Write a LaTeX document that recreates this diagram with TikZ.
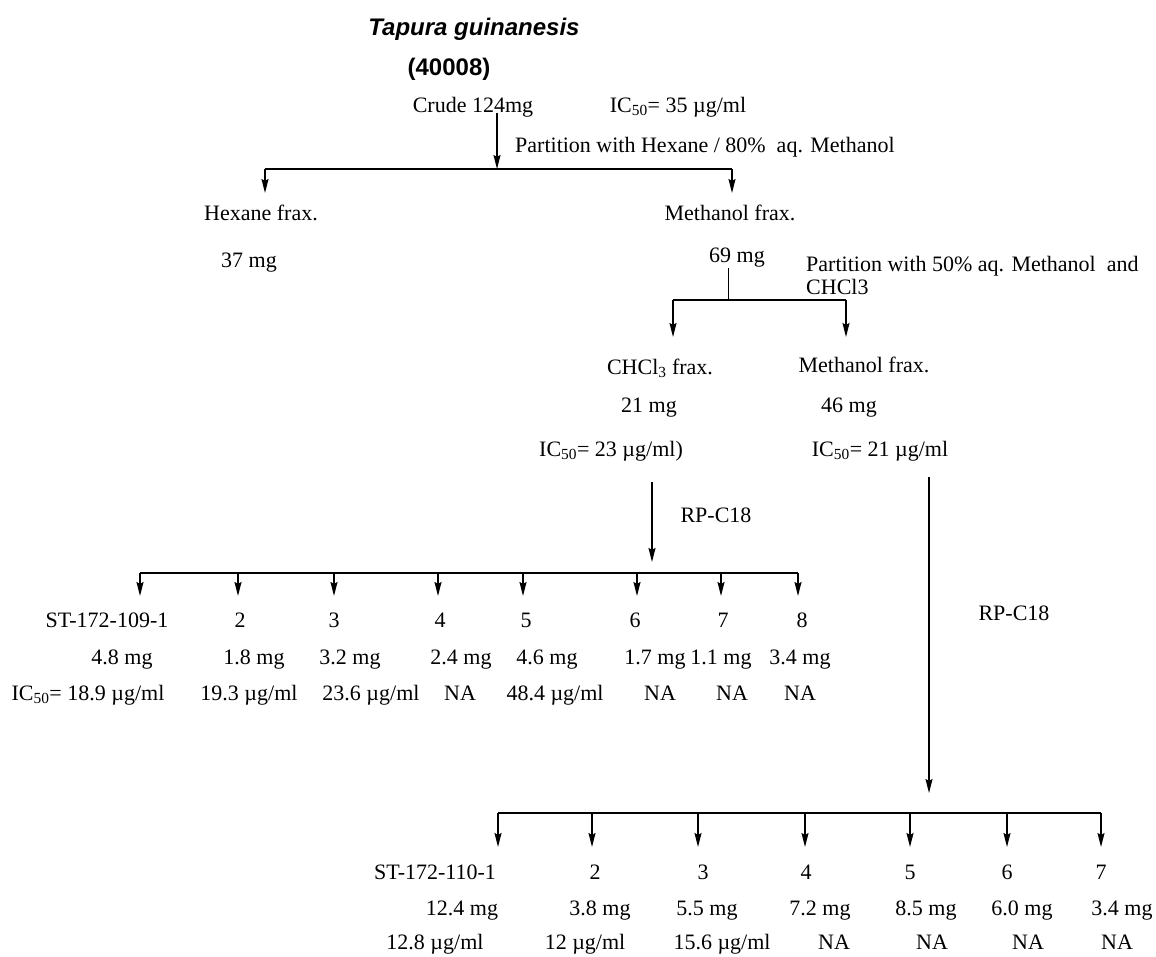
\documentclass[tikz,border=0pt]{standalone}
\usepackage{fontspec}
\setmainfont{Liberation Serif}
\newfontfamily\titlefont{Liberation Sans}
\usetikzlibrary{positioning, calc, arrows.meta}

\begin{document}
\begin{tikzpicture}[
            x=1pt, y=-1pt,
            lbl/.style={inner sep=0pt, text height=15pt, text depth=0pt, font=\fontsize{22}{24}\selectfont},
            ttl/.style={inner sep=0pt, text height=17pt, text depth=0pt, font=\titlefont\bfseries\fontsize{24}{28}\selectfont},
            note/.style={lbl, anchor=west},
            split/.style={line width=1.6pt},
            tick/.style={line width=1pt},
            arr/.style={->, >={Stealth[length=14pt, width=7pt, inset=2pt]}, line width=1.6pt}
        ]
            \useasboundingbox (0,0) rectangle (1156,956);

            % --- 1. crude extract ---
            \node[ttl] (plant) at (474,27) {\itshape Tapura guinanesis};
            \node[ttl] (code) at (449,67) {(40008)};
            \node[lbl] (crude) at (473,105) {Crude 124mg};
            \node[lbl] (ic0) at (678,105) {IC\textsubscript{50}= 35 µg/ml};
            \node[note] (part1) at (515,145) {Partition with Hexane / 80\%\ \ aq. Methanol};

            \coordinate (s0) at (497,169);
            \coordinate (h0) at (265,169);
            \coordinate (h1) at (265,193);
            \coordinate (m0) at (732,169);
            \coordinate (m1) at (732,193);
            \draw[arr] (crude.south -| s0) -- (s0);
            \draw[split] (h0) -- (m0);
            \draw[arr] (h0) -- (h1);
            \draw[arr] (m0) -- (m1);

            % --- 2. hexane / methanol partition ---
            \node[lbl] (hex) at (261,213) {Hexane frax.};
            \node[lbl] (hexmg) at (249,260) {37 mg};
            \node[lbl] (meth) at (730,213) {Methanol frax.};
            \node[lbl] (methmg) at (737,255) {69 mg};
            \node[note] (part2) at (806,264) {Partition with 50\% aq. Methanol\ \ and};
            \node[note, below=8pt of part2.south west, anchor=north west] (part2b) {CHCl3};

            \coordinate (k0) at (728,268);
            \coordinate (k1) at (728,300);
            \coordinate (c0) at (673,300);
            \coordinate (c1) at (673,337);
            \coordinate (w0) at (846,300);
            \coordinate (w1) at (846,337);
            \draw[tick] (k0) -- (k1);
            \draw[split] (c0) -- (w0);
            \draw[arr] (c0) -- (c1);
            \draw[arr] (w0) -- (w1);

            \node[lbl] (chcl) at (660,367) {CHCl\textsubscript{3} frax.};
            \node[lbl] (chclmg) at (649,405) {21 mg};
            \node[lbl] (chclic) at (611,449) {IC\textsubscript{50}= 23 µg/ml)};
            \node[lbl] (meth2) at (864,365) {Methanol frax.};
            \node[lbl] (meth2mg) at (849,405) {46 mg};
            \node[lbl] (meth2ic) at (880,449) {IC\textsubscript{50}= 21 µg/ml};

            % --- 3. RP-C18 of the CHCl3 fraction ---
            \coordinate (r1) at (652,482);
            \coordinate (r1t) at (652,562);
            \draw[arr] (r1) -- (r1t);
            \node[lbl] (rp1) at (716,515) {RP-C18};

            \foreach \i/\x in {1/140,2/238,3/334,4/438,5/523,6/637,7/721,8/798} {
                \coordinate (ca\i) at (\x,573);
                \coordinate (ta\i) at (\x,596);
                \draw[arr] (ca\i) -- (ta\i);
            }
            \draw[split] (ca1) -- (ca8);

            \foreach \i/\x/\t in {1/107/{ST-172-109-1},2/240/2,3/334/3,4/440/4,5/526/5,6/635/6,7/723/7,8/802/8}
                \node[lbl] (fa\i) at (\x,620) {\t};
            \foreach \i/\x/\t in {1/122/{4.8 mg},2/254/{1.8 mg},3/350/{3.2 mg},4/461/{2.4 mg},5/547/{4.6 mg},6/655/{1.7 mg},7/721/{1.1 mg},8/800/{3.4 mg}}
                \node[lbl] (ma\i) at (\x,657) {\t};
            \foreach \i/\x/\t in {1/88/{IC\textsubscript{50}= 18.9 µg/ml},2/249/{19.3 µg/ml},3/371/{23.6 µg/ml},4/460/{NA},5/555/{48.4 µg/ml},6/660/{NA},7/732/{NA},8/800/{NA}}
                \node[lbl] (ia\i) at (\x,693) {\t};

            % --- 4. RP-C18 of the methanol fraction ---
            \coordinate (r2) at (929,477);
            \coordinate (r2t) at (929,793);
            \draw[arr] (r2) -- (r2t);
            \node[lbl] (rp2) at (1014,613) {RP-C18};

            \foreach \i/\x in {1/498,2/592,3/698,4/805,5/910,6/1007,7/1101} {
                \coordinate (cb\i) at (\x,813);
                \coordinate (tb\i) at (\x,847);
                \draw[arr] (cb\i) -- (tb\i);
            }
            \draw[split] (cb1) -- (cb7);

            \foreach \i/\x/\t in {1/435/{ST-172-110-1},2/595/2,3/703/3,4/806/4,5/910/5,6/1007/6,7/1101/7}
                \node[lbl] (fb\i) at (\x,872) {\t};
            \foreach \i/\x/\t in {1/462/{12.4 mg},2/600/{3.8 mg},3/707/{5.5 mg},4/820/{7.2 mg},5/926/{8.5 mg},6/1022/{6.0 mg},7/1122/{3.4 mg}}
                \node[lbl] (mb\i) at (\x,908) {\t};
            \foreach \i/\x/\t in {1/435/{12.8 µg/ml},2/585/{12 µg/ml},3/722/{15.6 µg/ml},4/834/{NA},5/932/{NA},6/1028/{NA},7/1117/{NA}}
                \node[lbl] (ib\i) at (\x,942) {\t};

        \end{tikzpicture}
\end{document}
